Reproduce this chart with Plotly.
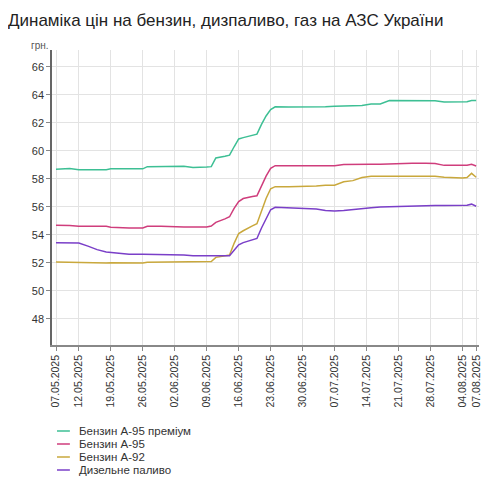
import plotly.graph_objects as go

# Dates of observations
dates = [
    "2025-05-07", "2025-05-09", "2025-05-10", "2025-05-12", "2025-05-14", "2025-05-16",
    "2025-05-18", "2025-05-19", "2025-05-21", "2025-05-23", "2025-05-26", "2025-05-27",
    "2025-05-30", "2025-06-02", "2025-06-04", "2025-06-06", "2025-06-08", "2025-06-09",
    "2025-06-10", "2025-06-11", "2025-06-13", "2025-06-14", "2025-06-15", "2025-06-16",
    "2025-06-17", "2025-06-18", "2025-06-19", "2025-06-20", "2025-06-21", "2025-06-22",
    "2025-06-23", "2025-06-24", "2025-06-27", "2025-06-30", "2025-07-03", "2025-07-05",
    "2025-07-07", "2025-07-09", "2025-07-11", "2025-07-13", "2025-07-15", "2025-07-17",
    "2025-07-19", "2025-07-21", "2025-07-24", "2025-07-27", "2025-07-29", "2025-07-31",
    "2025-08-02", "2025-08-04", "2025-08-05", "2025-08-06", "2025-08-07",
]

# Prices, UAH per litre
a95_premium = [
    58.69, 58.75, 58.75, 58.66, 58.66, 58.66, 58.66, 58.72, 58.72, 58.72,
    58.72, 58.88, 58.9, 58.9, 58.9, 58.81, 58.81, 58.85, 58.88,
    59.5, 59.62, 59.7, 60.3, 60.86, 60.95, 61.05, 61.12, 61.2, 61.9, 62.5, 62.95, 63.15,
    63.13, 63.13, 63.13, 63.15, 63.2, 63.2, 63.22, 63.25, 63.36, 63.36,
    63.6, 63.6, 63.6, 63.6, 63.58, 63.5, 63.5, 63.5, 63.52, 63.6, 63.6,
]
a95 = [
    54.7, 54.7, 54.68, 54.62, 54.62, 54.62, 54.62, 54.55, 54.5, 54.5,
    54.5, 54.62, 54.62, 54.57, 54.57, 54.57, 54.57, 54.57, 54.64,
    54.9, 55.15, 55.3, 55.9, 56.38, 56.6, 56.7, 56.75, 56.8, 57.5, 58.2, 58.76, 58.95,
    58.95, 58.95, 58.95, 58.95, 58.95, 59.03, 59.05, 59.05, 59.05, 59.05,
    59.08, 59.12, 59.12, 59.12, 59.1, 58.97, 58.97, 58.97, 58.98, 59.05, 58.93,
]
a92 = [
    52.07, 52.05, 52.07, 52.05, 52.0, 52.03, 52.0, 52.02, 52.0, 52.03,
    52.0, 52.05, 52.05, 52.05, 52.05, 52.05, 52.05, 52.07, 52.1,
    52.4, 52.5, 52.57, 53.4, 54.1, 54.3, 54.5, 54.65, 54.8, 55.7, 56.6, 57.3, 57.45,
    57.45, 57.45, 57.5, 57.55, 57.55, 57.8, 57.88, 58.1, 58.19, 58.19,
    58.19, 58.19, 58.19, 58.19, 58.19, 58.12, 58.07, 58.07, 58.1, 58.4, 58.12,
]
diesel = [
    53.45, 53.45, 53.45, 53.43, 53.2, 52.95, 52.79, 52.75, 52.69, 52.62,
    52.62, 52.62, 52.6, 52.57, 52.57, 52.52, 52.5, 52.5, 52.52,
    52.52, 52.52, 52.52, 52.9, 53.29, 53.45, 53.55, 53.65, 53.75, 54.5, 55.2, 55.8, 55.98,
    55.95, 55.93, 55.85, 55.75, 55.71, 55.75, 55.83, 55.9, 55.95, 56.0,
    56.02, 56.05, 56.1, 56.1, 56.1, 56.1, 56.1, 56.1, 56.12, 56.2, 56.05,
]

names = ["Бензин А-95 преміум", "Бензин А-95", "Бензин А-92", "Дизельне паливо"]
colors = ["#3dbf94", "#cf3d7c", "#c9a83c", "#7a3fc8"]
series = [a95_premium, a95, a92, diesel]

tick_dates = [
    "2025-05-07", "2025-05-12", "2025-05-19", "2025-05-26", "2025-06-02", "2025-06-09",
    "2025-06-16", "2025-06-23", "2025-06-30", "2025-07-07", "2025-07-14", "2025-07-21",
    "2025-07-28", "2025-08-04", "2025-08-07",
]
tick_text = [d[8:10] + "." + d[5:7] + "." + d[0:4] for d in tick_dates]
y_ticks = [48, 50, 52, 54, 56, 58, 60, 62, 64, 66]

fig = go.Figure()
for name, color, vals in zip(names, colors, series):
    fig.add_trace(go.Scatter(x=dates, y=vals, mode="lines", name=name,
                             line=dict(color=color, width=1.5), showlegend=False))

# the page puts the figure 8px in from the top-left corner
OFF = 8
W, H = 490 - OFF, 481 - OFF
L, R, T, B = 52 - OFF, 8, 50 - OFF, 136
pw, ph = W - L - R, H - T - B


def px_x(x):
    return (x - OFF - L) / pw


def px_y(y):
    return (H - B - (y - OFF)) / ph


# legend drawn by hand (plotly's own legend rows are too tall)
for i, (name, color) in enumerate(zip(names, colors)):
    yp = px_y(431 + i * 13)
    fig.add_shape(type="line", xref="paper", yref="paper",
                  x0=px_x(57), x1=px_x(70), y0=yp, y1=yp,
                  line=dict(color=color, width=1.5))
    fig.add_annotation(text=name, xref="paper", yref="paper",
                       x=px_x(77), y=yp, xanchor="left", yanchor="middle",
                       showarrow=False, font=dict(size=11.5, color="#333"))

fig.add_annotation(text="грн.", xref="paper", yref="paper",
                   x=px_x(40), y=px_y(45), xanchor="center", yanchor="middle",
                   showarrow=False, font=dict(size=10, color="#555"))

fig.update_layout(
    width=W, height=H,
    margin=dict(l=L, r=R, t=T, b=B),
    paper_bgcolor="white", plot_bgcolor="white",
    font=dict(family="Liberation Sans, Arial, sans-serif", color="#333"),
    title=dict(text="Динаміка цін на бензин, дизпаливо, газ на АЗС України",
               x=0, xanchor="left", y=1 - (20 - OFF) / H, yanchor="middle",
               font=dict(size=17, color="#222")),
    xaxis=dict(type="date", range=["2025-05-06 03:00", "2025-08-07 15:00"],
               tickvals=tick_dates, ticktext=tick_text, tickangle=-90,
               tickfont=dict(size=10.5, color="#333"),
               showgrid=True, gridcolor="#e3e3e3", gridwidth=1,
               showline=True, linecolor="#888", linewidth=1.5,
               ticks="outside", ticklen=4, tickcolor="#888", zeroline=False),
    yaxis=dict(range=[46.14, 67.21], tickvals=y_ticks,
               tickfont=dict(size=11, color="#333"),
               showgrid=True, gridcolor="#e3e3e3", gridwidth=1,
               showline=True, linecolor="#666", linewidth=1.5,
               ticks="outside", ticklen=4, tickcolor="#888", zeroline=False),
)

fig.write_html("out.html")
